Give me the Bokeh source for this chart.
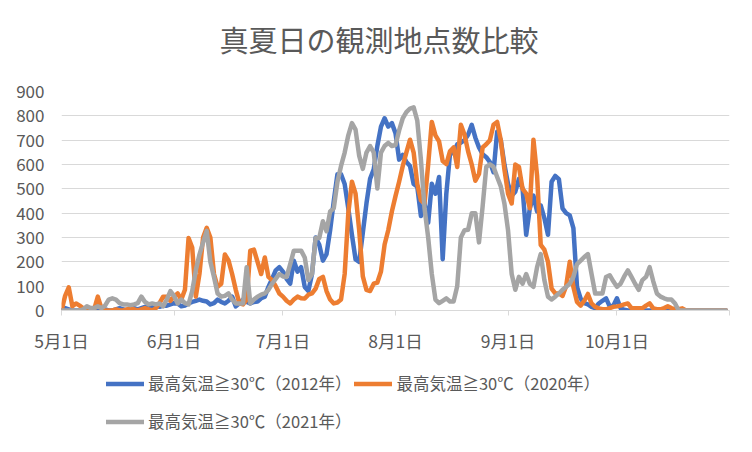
from bokeh.plotting import figure
from bokeh.layouts import column
from bokeh.models import Range1d, FixedTicker, Legend, LegendItem, Label
from bokeh.embed import file_html
from bokeh.resources import INLINE

# ---- data (daily values, May 1 .. Oct 31; day index 0 = May 1) ----
title_text = "真夏日の観測地点数比較"
month_ticks = [0, 31, 61, 92, 123, 153, 184]
month_labels = ["5月1日", "6月1日", "7月1日", "8月1日", "9月1日", "10月1日", ""]
y_ticks = [0, 100, 200, 300, 400, 500, 600, 700, 800, 900]
series_names = ["最高気温≧30℃（2012年）", "最高気温≧30℃（2020年）", "最高気温≧30℃（2021年）"]

v2012 = [
    0, 10, 5, 0, 0, 0, 0, 0, 0, 0,
    0, 0, 5, 0, 0, 5, 10, 5, 0, 5,
    10, 5, 10, 15, 10, 15, 20, 15, 20, 20,
    25, 30, 29, 17, 20, 29, 35, 40, 45, 40,
    37, 25, 30, 45, 35, 29, 40, 57, 17, 30,
    45, 35, 29, 35, 37, 50, 57, 97, 130, 165,
    178, 160, 130, 110, 205, 160, 178, 97, 80, 150,
    300, 270, 205, 232, 330, 450, 560, 560, 520, 420,
    311, 210, 200, 320, 440, 541, 580, 676, 756, 790,
    756, 770, 729, 620, 640, 610, 594, 520, 509, 388,
    440, 360, 521, 480, 549, 211, 480, 642, 650, 683,
    690, 700, 722, 763, 710, 670, 642, 630, 610, 568,
    735, 700, 600, 520, 472, 488, 541, 501, 311, 420,
    472, 407, 432, 380, 311, 529, 553, 540, 420, 400,
    391, 339, 97, 49, 30, 25, 15, 10, 29, 40,
    50, 17, 20, 50, 9, 3, 0, 0, 0, 0,
    0, 0, 0, 0, 0, 0, 0, 0, 0, 0,
    0, 0, 0, 0, 0, 0, 0, 0, 0, 0,
    0, 0, 0, 0,
]

v2020 = [
    0, 60, 95, 17, 29, 20, 9, 0, 0, 5,
    57, 9, 0, 0, 0, 5, 0, 0, 5, 10,
    5, 0, 5, 10, 5, 0, 10, 30, 57, 57,
    40, 57, 70, 45, 85, 298, 259, 57, 150, 300,
    340, 300, 150, 97, 110, 230, 206, 150, 85, 29,
    25, 45, 246, 250, 200, 150, 218, 138, 125, 100,
    70, 57, 40, 29, 45, 57, 50, 49, 65, 70,
    90, 130, 138, 80, 45, 29, 33, 45, 150, 400,
    529, 480, 330, 140, 85, 80, 110, 115, 160, 271,
    330, 407, 470, 529, 594, 650, 702, 649, 520, 453,
    440, 600, 775, 720, 695, 614, 602, 654, 670, 590,
    763, 723, 654, 600, 533, 561, 670, 683, 700, 763,
    775, 700, 580, 480, 440, 600, 590, 500, 480, 420,
    702, 554, 270, 250, 200, 90, 70, 70, 60, 100,
    200, 97, 35, 20, 40, 68, 29, 15, 9, 5,
    5, 10, 15, 17, 20, 25, 29, 10, 9, 9,
    9, 20, 29, 9, 5, 5, 10, 17, 10, 5,
    5, 9, 0, 0, 0, 0, 0, 0, 0, 0,
    0, 0, 0, 0,
]

v2021 = [
    0, 0, 0, 0, 0, 0, 5, 17, 10, 10,
    17, 10, 20, 45, 50, 45, 30, 25, 25, 22,
    25, 30, 57, 35, 25, 29, 25, 29, 17, 45,
    80, 60, 29, 45, 30, 25, 80, 165, 230, 280,
    327, 200, 138, 70, 57, 60, 70, 45, 29, 29,
    29, 178, 29, 45, 57, 65, 70, 85, 110, 130,
    150, 140, 138, 191, 246, 246, 246, 218, 125, 150,
    298, 298, 367, 326, 407, 420, 528, 594, 649, 720,
    770, 743, 635, 582, 649, 676, 650, 501, 649, 676,
    689, 676, 680, 740, 790, 815, 830, 835, 780, 620,
    420, 300, 150, 45, 30, 40, 50, 37, 37, 100,
    300, 330, 332, 400, 400, 280, 428, 590, 601, 590,
    549, 510, 440, 330, 150, 85, 138, 110, 150, 110,
    97, 178, 232, 125, 57, 45, 57, 70, 85, 97,
    110, 138, 191, 205, 220, 232, 150, 70, 70, 70,
    138, 145, 120, 97, 110, 140, 165, 138, 110, 85,
    125, 138, 178, 120, 70, 57, 50, 45, 45, 29,
    0, 0, 0, 0, 0, 0, 0, 0, 0, 0,
    0, 0, 0, 0,
]

colors = ["#4472C4", "#ED7D31", "#A5A5A5"]
FONT = "Noto Sans CJK JP"
TXT = "#595959"

days = list(range(len(v2012)))
series = [v2012, v2020, v2021]

# ---- title strip (1 data unit = 1 px) ----
pt = figure(width=750, height=77, output_backend="svg", toolbar_location=None,
            x_range=Range1d(0, 750), y_range=Range1d(0, 77),
            x_axis_location=None, y_axis_location=None,
            min_border_left=0, min_border_right=0, min_border_top=0, min_border_bottom=0)
pt.grid.visible = False
pt.outline_line_color = None
pt.border_fill_color = "white"
pt.title.visible = False
pt.add_layout(Label(x=356.5, y=39, text=title_text, text_align="center",
                    text_baseline="middle", text_font=FONT, text_font_size="29px",
                    text_color=TXT))

# ---- main chart ----
p = figure(width=750, height=278, output_backend="svg", toolbar_location=None,
           x_range=Range1d(0, 184), y_range=Range1d(0, 900),
           min_border_left=61, min_border_right=21, min_border_top=14, min_border_bottom=41)
p.title.visible = False

p.outline_line_color = None
p.background_fill_color = "white"
p.border_fill_color = "white"

p.xgrid.visible = False
p.ygrid.grid_line_color = "#d9d9d9"
p.ygrid.grid_line_width = 1

p.xaxis.ticker = FixedTicker(ticks=month_ticks)
p.xaxis.major_label_overrides = {t: l for t, l in zip(month_ticks, month_labels)}
p.xaxis.minor_tick_line_color = None
p.xaxis.axis_line_color = "#d9d9d9"
p.xaxis.major_tick_line_color = "#d9d9d9"
p.xaxis.major_tick_out = 5
p.xaxis.major_tick_in = 0
p.xaxis.major_label_standoff = 12
p.xaxis.major_label_text_font = FONT
p.xaxis.major_label_text_font_size = "17.5px"
p.xaxis.major_label_text_color = TXT

p.yaxis.ticker = FixedTicker(ticks=y_ticks)
p.yaxis.axis_line_color = None
p.yaxis.major_tick_line_color = None
p.yaxis.minor_tick_line_color = None
p.yaxis.major_label_standoff = 11
p.yaxis.major_label_text_font = FONT
p.yaxis.major_label_text_font_size = "17px"
p.yaxis.major_label_text_color = TXT

for vals, col in zip(series, colors):
    p.line(days, vals, line_color=col, line_width=4.5,
           line_join="round", line_cap="round")

# ---- legend strip (same series, drawn outside its visible range) ----
pl = figure(width=750, height=95, output_backend="svg", toolbar_location=None,
            x_range=Range1d(-20, -10), y_range=Range1d(0, 900),
            x_axis_location=None, y_axis_location=None,
            min_border_left=0, min_border_right=0, min_border_top=0, min_border_bottom=0)
pl.grid.visible = False
pl.outline_line_color = None
pl.border_fill_color = "white"
pl.title.visible = False
leg_renderers = []
for vals, col in zip(series, colors):
    r = pl.line(days, vals, line_color=col, line_width=4.5, line_cap="round")
    leg_renderers.append(r)

legend = Legend(items=[LegendItem(label=n, renderers=[r]) for n, r in zip(series_names, leg_renderers)],
                orientation="horizontal", ncols=2, location=(45, 11.5),
                padding=0, margin=0, spacing=3, glyph_width=38, glyph_height=35,
                label_height=35, label_standoff=4,
                label_text_font=FONT, label_text_font_size="16.5px", label_text_color=TXT,
                border_line_color=None, background_fill_alpha=0)
pl.add_layout(legend, "center")

layout = column(pt, p, pl, spacing=0)
open("out.html", "w").write(file_html(layout, INLINE))
